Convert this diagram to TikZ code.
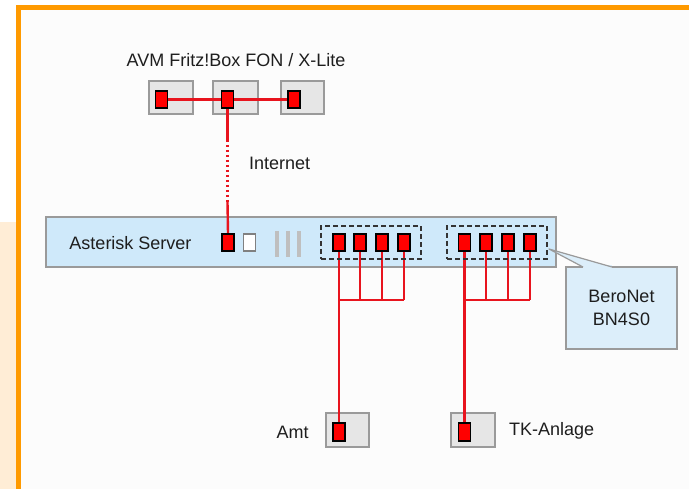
\documentclass[tikz,border=0pt]{standalone}
\usepackage{fontspec}
\setmainfont{Liberation Sans}
\pgfdeclarelayer{bg}
\pgfdeclarelayer{mid}
\pgfsetlayers{bg,mid,main}
\definecolor{frameorange}{HTML}{FF9A00}
\definecolor{peach}{HTML}{FFEDD6}
\definecolor{wire}{HTML}{E8141E}
\definecolor{portred}{HTML}{FF0000}
\definecolor{boxgray}{HTML}{E6E6E6}
\definecolor{boxborder}{HTML}{9A9A9A}
\definecolor{serverblue}{HTML}{CFE9FA}
\definecolor{calloutblue}{HTML}{DCEEFA}
\definecolor{txt}{HTML}{1E1E1E}
\tikzset{
  lbl/.style={font=\fontsize{18}{20}\selectfont, text=txt, inner sep=0pt},
  port/.style={draw=black, line width=1.1pt, fill=portred, minimum width=12pt, minimum height=17pt, inner sep=0pt},
  freeport/.style={draw=gray, line width=1.1pt, fill=white, minimum width=12pt, minimum height=17pt, inner sep=0pt},
  devbox/.style={draw=boxborder, line width=1.4pt, fill=boxgray, inner sep=0pt},
  grp/.style={draw=black!80, line width=1.5pt, dash pattern=on 5pt off 3pt, inner sep=0pt, minimum width=100pt, minimum height=33pt},
  wireline/.style={draw=wire, line width=2.4pt},
  bar/.style={draw=black!25, line width=4pt},
}
\begin{document}
\begin{tikzpicture}[x=1pt,y=-1pt]
\useasboundingbox (0,0) rectangle (689,489);
\begin{pgfonlayer}{bg}
% background and frame
\fill[white] (0,0) rectangle (689,489);
\fill[peach] (0,222) rectangle (16,489);
\fill[white!99!black] (21,10) rectangle (689,489);
\draw[frameorange, line width=5pt] (18.5,492) -- (18.5,8) -- (692,8);
% device boxes
\node[devbox, minimum width=44pt, minimum height=33pt] (fb1) at (171,97.5) {};
\node[devbox, minimum width=45pt, minimum height=33pt] (fb2) at (235.5,97.5) {};
\node[devbox, minimum width=43pt, minimum height=33pt] (fb3) at (302.5,97.5) {};
\node[draw=boxborder, line width=2pt, fill=serverblue, minimum width=510pt, minimum height=50pt, inner sep=0pt] (server) at (301,242) {};
\node[devbox, minimum width=43pt, minimum height=34pt] (amt) at (347.5,430) {};
\node[devbox, minimum width=44pt, minimum height=34pt] (tk) at (473,430) {};
\end{pgfonlayer}

% Fritz!Box
\node[lbl] (title) at (236,60) {AVM Fritz!Box FON / X-Lite};
\node[port] (fp1) at (161.5,99.5) {};
\node[port] (fp2) at (227.5,99.5) {};
\node[port] (fp3) at (294,99.5) {};

\node[lbl, anchor=west] (inet) at (249,163) {Internet};

% Server
\node[lbl] (srvlbl) at (130.5,243) {Asterisk Server};
\node[port] (sp) at (228,242.5) {};
\node[freeport] (wp) at (249.5,242.5) {};
\draw[bar] (277,231) -- (277,257);
\draw[bar] (288,231) -- (288,257);
\draw[bar] (299,231) -- (299,257);

\node[grp] (g1) at (371,242.5) {};
\node[grp] (g2) at (497,242.5) {};
\node[port] (p11) at (339,242.5) {};
\node[port] (p12) at (360,242.5) {};
\node[port] (p13) at (382,242.5) {};
\node[port] (p14) at (404,242.5) {};
\node[port] (p21) at (464.5,242.5) {};
\node[port] (p22) at (486,242.5) {};
\node[port] (p23) at (508,242.5) {};
\node[port] (p24) at (530,242.5) {};

% Amt and TK-Anlage
\node[port, minimum height=18pt] (ap) at (339,432) {};
\node[lbl] (amtlbl) at (292.5,432) {Amt};
\node[port, minimum height=18pt] (tp) at (464.5,432) {};
\node[lbl, anchor=west] (tklbl) at (509,431) {TK-Anlage};

% Callout
\node[draw=boxborder, line width=1.2pt, fill=calloutblue, minimum width=111pt, minimum height=82pt, inner sep=0pt, align=center, font=\fontsize{18}{22.5}\selectfont, text=txt] (bero) at (621.5,308) {BeroNet\\BN4S0};
\coordinate (tip) at (549,249);
\coordinate (cb1) at (583,267);
\coordinate (cb2) at (612,267);
\fill[calloutblue] (cb1) -- (tip) -- (cb2) -- cycle;
\fill[calloutblue] ([yshift=1.5pt]cb1) rectangle ([yshift=-1pt]cb2);
\draw[boxborder, line width=1.2pt, line join=round] (cb1) -- (tip) -- (cb2);

% wires
\begin{pgfonlayer}{mid}
\draw[wireline] (fp1) -- (fp3);
\coordinate (d1) at (227.5,140);
\coordinate (d2) at (227.5,202);
\draw[wireline] (fp2.south) -- (d1);
\draw[wire, line width=2.4pt, dash pattern=on 2.5pt off 2.5pt] (d1) -- (d2);
\draw[wireline] (d2) -- (sp.north);
\coordinate (bus) at (0,300);
\foreach \p in {p11,p12,p13,p14,p21,p22,p23,p24}
  \draw[wireline] (\p.south) -- (\p.south |- bus);
\draw[wireline] (p11.south |- bus) -- (p14.south |- bus);
\draw[wireline] (p21.south |- bus) -- (p24.south |- bus);
\draw[wireline] (p11.south) -- (ap.north);
\draw[wireline] (p21.south) -- (tp.north);
\end{pgfonlayer}
\end{tikzpicture}
\end{document}
